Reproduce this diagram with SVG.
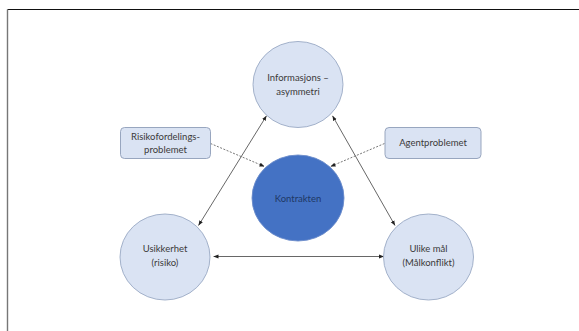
<svg xmlns="http://www.w3.org/2000/svg" width="579" height="331" viewBox="0 0 579 331">
<defs>
<marker id="ah" viewBox="0 0 10 10" refX="10" refY="5" markerWidth="5" markerHeight="5" orient="auto-start-reverse" markerUnits="userSpaceOnUse">
<path d="M0,1 L10,5 L0,9 z" fill="#222"/>
</marker>
<style>
.n{fill:#DAE3F3;stroke:#9AA9C4;stroke-width:0.9}
.b{fill:#DAE3F3;stroke:#8E9DB8;stroke-width:0.9}
.k{fill:#4472C4;stroke:#6C8CCB;stroke-width:0.9}
.t{font-family:Lato,"Open Sans","Liberation Sans",sans-serif;font-size:9.5px;fill:#3A3A3A;text-anchor:middle}
.tk{fill:#1F3864}
.c{stroke:#404040;stroke-width:0.8;fill:none;marker-start:url(#ah);marker-end:url(#ah)}
.d{stroke:#555;stroke-width:0.8;fill:none;stroke-dasharray:2 1.5;marker-end:url(#ah)}
</style>
</defs>
<rect width="579" height="331" fill="#fff"/>
<line x1="7.5" y1="9.5" x2="579" y2="9.5" stroke="#111" stroke-width="1.2"/>
<line x1="7.5" y1="9.5" x2="7.5" y2="331" stroke="#777" stroke-width="1.4"/>
<g id="connectors">
<line class="c" x1="198.5" y1="225.5" x2="266.5" y2="115.8"/>
<line class="c" x1="332.5" y1="115.8" x2="395" y2="225.5"/>
<line class="c" x1="213.5" y1="256.5" x2="384" y2="256.5"/>
<line class="d" x1="210.5" y1="143.5" x2="264.5" y2="166.5"/>
<line class="d" x1="384.5" y1="143.5" x2="330.5" y2="166.5"/>
</g>
<g id="info">
<ellipse class="n" cx="298" cy="84.5" rx="45" ry="43"/>
<text class="t" x="298" y="81">Informasjons –</text>
<text class="t" x="298" y="95">asymmetri</text>
</g>
<g id="kontrakten">
<ellipse class="k" cx="298" cy="198" rx="46" ry="43"/>
<text class="t tk" x="298" y="201.5">Kontrakten</text>
</g>
<g id="usikkerhet">
<ellipse class="n" cx="165" cy="257" rx="45" ry="43"/>
<text class="t" x="165" y="252">Usikkerhet</text>
<text class="t" x="165" y="266">(risiko)</text>
</g>
<g id="ulike">
<ellipse class="n" cx="428.5" cy="257" rx="45" ry="43"/>
<text class="t" x="428.5" y="252">Ulike mål</text>
<text class="t" x="428.5" y="266">(Målkonflikt)</text>
</g>
<g id="risiko">
<rect class="b" x="120.5" y="127.5" width="90" height="31" rx="4"/>
<text class="t" x="165.5" y="139.5">Risikofordelings-</text>
<text class="t" x="165.5" y="152.5">problemet</text>
</g>
<g id="agent">
<rect class="b" x="385" y="127.5" width="96" height="31" rx="4"/>
<text class="t" x="433" y="146">Agentproblemet</text>
</g>
</svg>
